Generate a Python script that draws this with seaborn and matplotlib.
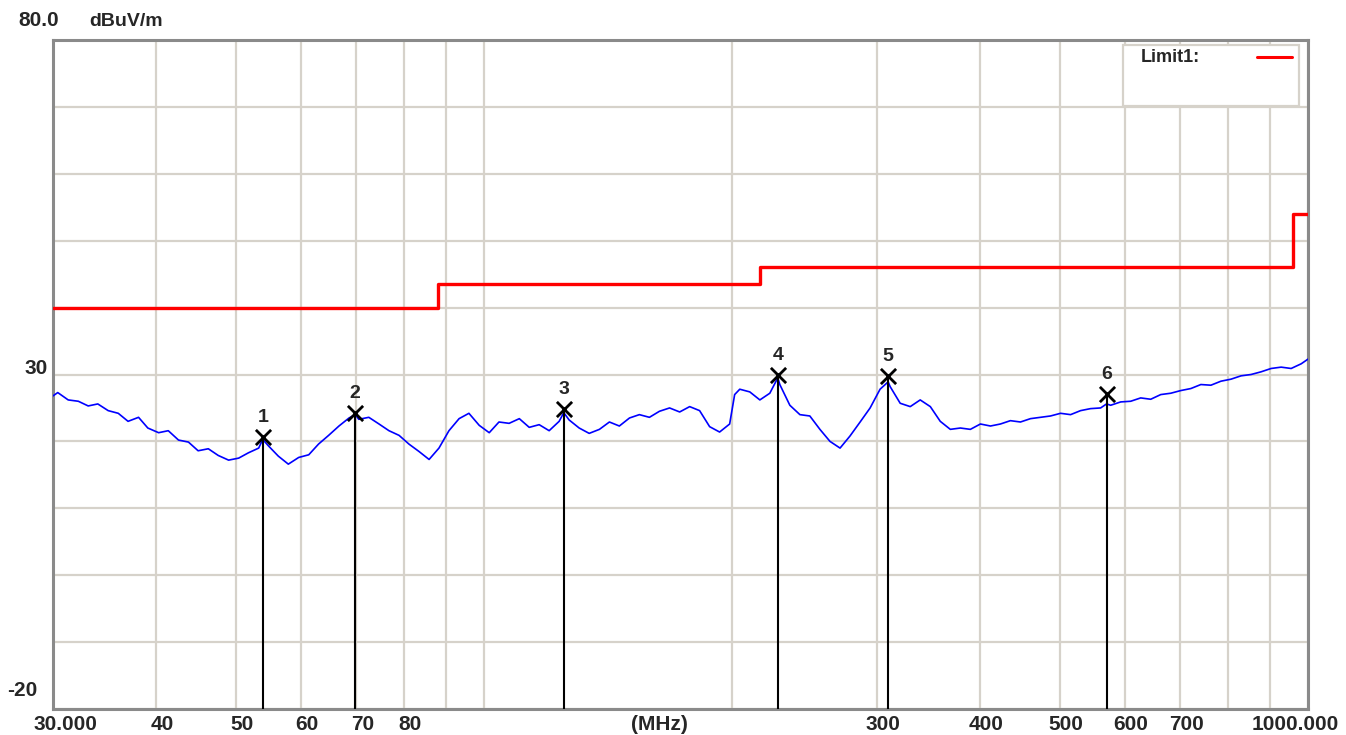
import numpy as np
import pandas as pd
import matplotlib
matplotlib.use("Agg")
import matplotlib.pyplot as plt
import matplotlib.transforms as mtrans
from matplotlib.patches import Rectangle
from matplotlib.lines import Line2D
import seaborn as sns

freq = [30.0, 30.4, 31.3, 32.2, 33.1, 34.0, 35.0, 36.0, 37.0, 38.1, 39.1, 40.3,
        41.4, 42.6, 43.8, 45.0, 46.3, 47.6, 49.0, 50.4, 51.8, 53.3, 53.9, 54.8,
        56.3, 57.9, 59.6, 61.3, 63.0, 64.8, 66.7, 68.6, 69.8, 70.5, 72.5, 74.6,
        76.7, 78.9, 81.1, 83.4, 85.8, 88.2, 90.7, 93.3, 95.9, 98.7, 101.5, 104.3,
        107.3, 110.4, 113.5, 116.7, 120.0, 123.4, 125.0, 126.9, 130.5, 134.2,
        138.1, 142.0, 146.0, 150.2, 154.4, 158.8, 163.3, 168.0, 172.8, 177.7,
        182.7, 187.9, 193.2, 198.7, 201.5, 204.4, 210.2, 216.2, 222.3, 227.3,
        228.6, 235.1, 241.8, 248.6, 255.7, 263.0, 270.5, 278.1, 286.1, 294.2,
        302.5, 309.4, 311.1, 320.0, 329.1, 338.4, 348.1, 357.9, 368.1, 378.6,
        389.3, 400.4, 411.8, 423.4, 435.4, 447.8, 460.5, 473.6, 487.0, 500.9,
        515.1, 529.7, 544.7, 560.2, 569.6, 576.1, 592.5, 609.3, 626.6, 644.4,
        662.7, 681.5, 700.9, 720.8, 741.3, 762.4, 784.1, 806.4, 829.3, 852.9,
        877.1, 902.1, 927.7, 954.0, 981.2, 1000.0]
level = [26.8, 27.3, 26.2, 26.0, 25.3, 25.6, 24.6, 24.2, 23.0, 23.6, 22.0, 21.3,
         21.6, 20.2, 19.9, 18.6, 18.9, 17.9, 17.2, 17.5, 18.3, 19.0, 20.3, 19.3,
         17.8, 16.6, 17.6, 18.0, 19.6, 20.9, 22.3, 23.5, 24.0, 23.3, 23.6, 22.6,
         21.6, 20.9, 19.6, 18.5, 17.3, 19.0, 21.6, 23.4, 24.2, 22.4, 21.3, 22.9,
         22.7, 23.4, 22.1, 22.5, 21.6, 23.0, 24.3, 23.2, 22.0, 21.2,
         21.8, 22.9, 22.3, 23.5, 24.0, 23.6, 24.5, 25.0, 24.4, 25.2,
         24.6, 22.2, 21.4, 22.6, 27.0, 27.8, 27.4, 26.2, 27.2, 29.5,
         28.5, 25.4, 24.0, 23.8, 21.8, 20.0, 19.0, 20.8, 22.9, 25.0,
         27.8, 28.9, 28.2, 25.7, 25.2, 26.2, 25.2, 23.0, 21.8, 22.0,
         21.8, 22.6, 22.3, 22.6, 23.1, 22.9, 23.4, 23.6, 23.8, 24.2,
         24.0, 24.6, 24.9, 25.0, 25.6, 25.4, 25.9, 26.0, 26.5, 26.3,
         27.0, 27.2, 27.6, 27.9, 28.5, 28.4, 29.0, 29.3, 29.8, 30.0,
         30.4, 30.9, 31.1, 30.9, 31.6, 32.3]

# limit line (steps)
limit_freq = [30, 88, 216, 960, 1000]
limit_level = [40, 43.5, 46, 54, 54]

# markers
mark_id = ["1", "2", "3", "4", "5", "6"]
mark_freq = [53.9, 69.8, 125.0, 227.3, 309.4, 569.6]
mark_level = [20.6, 24.3, 24.8, 29.9, 29.8, 27.1]

xgrid = [30, 40, 50, 60, 70, 80, 90, 100, 200, 300, 400, 500, 600, 700, 800, 900, 1000]
xlab_vals = [30, 40, 50, 60, 70, 80, 300, 400, 500, 600, 700, 1000]
xlab_text = ["30.000", "40", "50", "60", "70", "80", "300", "400", "500", "600", "700", "1000.000"]

sns.set_style("white")
plt.rcParams["font.family"] = ["Liberation Sans", "DejaVu Sans"]
plt.rcParams["font.weight"] = "bold"

trace = pd.DataFrame({"freq": freq, "level": level})
lim = pd.DataFrame({"freq": limit_freq, "level": limit_level})
marks = pd.DataFrame({"freq": mark_freq, "level": mark_level, "id": mark_id})

fig = plt.figure(figsize=(13.46, 7.35), dpi=100)
ax = fig.add_axes([53 / 1346, 26 / 735, 1255 / 1346, 669 / 735])

ax.set_xscale("log")
ax.set_xlim(30, 1000)
ax.set_ylim(-20, 80)
ax.xaxis.set_minor_locator(matplotlib.ticker.NullLocator())
ax.set_xticks(xgrid)
ax.set_xticklabels([])
ax.set_yticks(range(-20, 81, 10))
ax.set_yticklabels([])
ax.tick_params(length=0)
ax.grid(True, color="#d6d2ca", linewidth=1.6, zorder=0)
ax.set_axisbelow(True)
for sp in ax.spines.values():
    sp.set_color("#8a8a8a")
    sp.set_linewidth(2.2)

sns.lineplot(data=lim, x="freq", y="level", ax=ax, color="#ff0000",
             linewidth=2.4, drawstyle="steps-post", estimator=None, zorder=3)
sns.lineplot(data=trace, x="freq", y="level", ax=ax, color="#0000ff",
             linewidth=1.2, estimator=None, zorder=4)

ax.vlines(marks["freq"], -20, marks["level"], color="black", linewidth=1.5, zorder=5)
sns.scatterplot(data=marks, x="freq", y="level", ax=ax, marker="x", s=120,
                color="black", linewidth=2.0, zorder=6)
for _, r in marks.iterrows():
    ax.annotate(r["id"], (r["freq"], r["level"]), xytext=(0, 8), textcoords="offset points",
                ha="center", va="bottom", fontsize=14, fontweight="bold")

ax.set_xlabel("")
ax.set_ylabel("")

# legend box
lx0 = (1123 - 53) / 1255
ly0 = 1 - (106 - 40) / 669
box = Rectangle((lx0, ly0), (1299 - 1123) / 1255, (106 - 45) / 669, transform=ax.transAxes,
                facecolor="white", edgecolor="#d6d2ca", linewidth=1.6, zorder=7)
ax.add_patch(box)
ax.text((1141 - 53) / 1255, 1 - (57 - 40) / 669, "Limit1:", transform=ax.transAxes,
        ha="left", va="center", fontsize=13, fontweight="bold", zorder=8)
ax.add_line(Line2D([(1257 - 53) / 1255, (1292 - 53) / 1255],
                   [1 - (57 - 40) / 669] * 2, transform=ax.transAxes,
                   color="#ff0000", linewidth=2.2, zorder=8))

# x labels
xt = mtrans.offset_copy(ax.get_xaxis_transform(), fig=fig, x=6, y=0, units="dots")
for v, t in zip(xlab_vals, xlab_text):
    if v == 30:
        ax.text(v, -16 / 669, t, transform=mtrans.offset_copy(ax.get_xaxis_transform(), fig=fig, x=-20, y=0, units="dots"),
                ha="left", va="center", fontsize=15, fontweight="bold")
    elif v == 1000:
        ax.text(v, -16 / 669, t, transform=mtrans.offset_copy(ax.get_xaxis_transform(), fig=fig, x=31, y=0, units="dots"),
                ha="right", va="center", fontsize=15, fontweight="bold")
    else:
        ax.text(v, -16 / 669, t, transform=xt, ha="center", va="center",
                fontsize=15, fontweight="bold")
ax.text((659 - 53) / 1255, -16 / 669, "(MHz)", transform=ax.transAxes,
        ha="center", va="center", fontsize=15, fontweight="bold")

# y labels
fig.text(18 / 1346, 1 - 21 / 735, "80.0", ha="left", va="center", fontsize=15, fontweight="bold")
fig.text(89 / 1346, 1 - 21 / 735, "dBuV/m", ha="left", va="center", fontsize=14, fontweight="bold")
fig.text(36 / 1346, 1 - 369 / 735, "30", ha="center", va="center", fontsize=15, fontweight="bold")
fig.text(22 / 1346, 1 - 690 / 735, "-20", ha="center", va="center", fontsize=15, fontweight="bold")

fig.savefig("out.png", dpi=100)
